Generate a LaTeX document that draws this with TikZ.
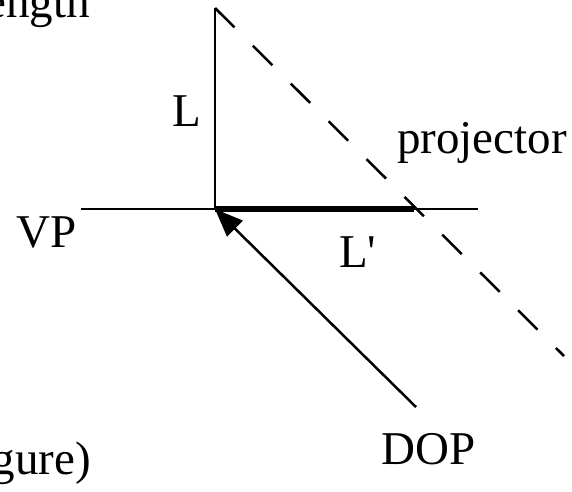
\documentclass[tikz,border=0pt]{standalone}
\usepackage{fontspec}
\setmainfont{Liberation Serif}
\usetikzlibrary{arrows.meta}
\begin{document}
\begin{tikzpicture}[x=1pt,y=-1pt,
  thinln/.style={line width=2.5pt},
  lbl/.style={inner sep=0pt, font=\fontsize{47}{56}\selectfont}]
\useasboundingbox (0,0) rectangle (572,491);
\coordinate (O) at (215,209);
\coordinate (T) at (215,8);
\coordinate (VPl) at (81,209);
\coordinate (VPr) at (478,209);
\coordinate (Lp) at (414,209);
\coordinate (Pend) at (564,356);
\coordinate (D) at (416,407);
\draw[thinln] (T) -- (O);
\draw[thinln] (VPl) -- (VPr);
\draw[line width=6pt] (O) -- (Lp);
\draw[thinln, dash pattern=on 27.5pt off 26pt] (T) -- (Pend);
\draw[thinln, -{Triangle[length=28pt,width=22pt]}] (D) -- (O);
\node[lbl, anchor=base east] (ength) at (90,17) {ength};
\node[lbl, anchor=base east] (gure) at (91,474) {gure)};
\node[lbl, anchor=base west] (L) at (172,126) {L};
\node[lbl, anchor=base west] (Lprime) at (339,267) {L\textquotesingle};
\node[lbl, anchor=base west] (proj) at (397,153) {projector};
\node[lbl, anchor=base west] (DOP) at (381,464) {DOP};
\node[lbl, anchor=base east] (VP) at (77,247) {VP};
\end{tikzpicture}
\end{document}
